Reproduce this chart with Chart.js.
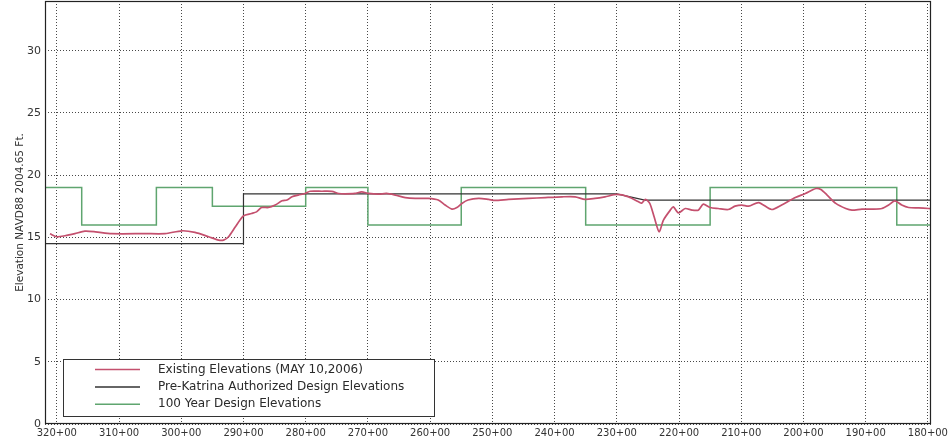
<!DOCTYPE html>
<html>
<head>
<meta charset="utf-8">
<script src="https://cdn.jsdelivr.net/npm/chart.js@4"></script>
<style>
html,body{margin:0;padding:0;background:#fff;}
#wrap{width:951px;height:441px;}
</style>
</head>
<body>
<div id="wrap"><canvas id="c" width="951" height="441"></canvas></div>
<script>
// ---- Data (stations in hundreds of feet, elevations in ft) ----
const seriesLabels = ['Existing Elevations (MAY 10,2006)', 'Pre-Katrina Authorized Design Elevations', '100 Year Design Elevations'];

const existingStations = [321.1,320.0,318.7,317.1,315.5,313.8,311.2,305.8,302.6,299.9,297.8,295.6,294.0,293.2,292.4,291.3,290.0,288.7,287.9,287.1,286.0,284.9,283.8,283.0,282.2,281.2,280.1,279.3,277.4,275.8,274.7,273.7,272.1,271.0,269.9,268.3,267.0,265.6,264.0,262.4,260.3,258.7,257.6,256.5,255.7,254.9,253.9,252.2,250.6,249.6,247.4,244.2,241.5,238.8,236.7,235.1,233.5,231.9,230.0,228.1,226.5,226.0,225.4,224.7,224.0,223.2,222.5,221.4,220.9,220.1,219.0,217.9,216.9,216.1,215.0,213.7,212.1,211.0,209.9,208.8,207.2,205.1,203.5,201.3,199.7,198.0,197.2,196.2,194.8,193.2,192.2,190.6,189.0,187.4,186.3,185.3,184.2,183.1,181.5,179.9,179.5];
const existingElev = [15.3,15.05,15.13,15.3,15.5,15.45,15.3,15.3,15.3,15.53,15.4,15.05,14.78,14.78,15.05,15.85,16.73,16.92,17.05,17.4,17.4,17.6,17.94,18.0,18.26,18.4,18.53,18.71,18.71,18.7,18.53,18.5,18.53,18.66,18.53,18.47,18.53,18.4,18.2,18.13,18.13,18.0,17.6,17.27,17.4,17.73,18.0,18.13,18.05,17.97,18.05,18.13,18.2,18.26,18.26,18.05,18.13,18.26,18.45,18.26,17.86,17.75,18.05,17.73,16.65,15.45,16.39,17.19,17.45,16.97,17.32,17.19,17.19,17.67,17.4,17.32,17.24,17.51,17.6,17.51,17.8,17.24,17.6,18.2,18.53,18.93,18.85,18.4,17.73,17.32,17.19,17.27,17.27,17.32,17.6,17.94,17.6,17.4,17.37,17.32,17.3];

const preKatrinaStations = [321.9,290.0,290.0,230.0,225.5,179.5];
const preKatrinaElev = [14.5,14.5,18.5,18.5,18.0,18.0];

const hundredYearStations = [321.9,316,304,295,280,270,255,235,215,185,179.5];
const hundredYearElev = [19,16,19,17.5,19,16,19,16,19,16,16];

const xTickStations = [320,310,300,290,280,270,260,250,240,230,220,210,200,190,180];
const yTickValues = [0,5,10,15,20,25,30];
const xMin = 179.5, xMax = 321.9, yMin = 0, yMax = 34;

const colors = ['#c4506e', '#333333', '#5fa56f'];

function pts(xs, ys){ return xs.map((x,i)=>({x:x, y:ys[i]})); }

const frameLegend = {
  id:'frameLegend',
  afterDatasetsDraw(chart){
    const {ctx, chartArea:a} = chart;
    ctx.save();
    // plot frame
    ctx.strokeStyle = '#222';
    ctx.lineWidth = 1.2;
    ctx.strokeRect(a.left+0.5, a.top+0.5, a.right-a.left-1, a.bottom-a.top-1);
    // legend
    const lx = a.left + 18, ly = a.bottom - 65, lw = 371, lh = 57;
    ctx.fillStyle = '#fff';
    ctx.fillRect(lx, ly, lw, lh);
    ctx.lineWidth = 1;
    ctx.strokeStyle = '#333';
    ctx.strokeRect(lx+0.5, ly+0.5, lw, lh);
    ctx.font = '12px "DejaVu Sans"';
    ctx.textBaseline = 'middle';
    ctx.textAlign = 'left';
    chart.data.datasets.forEach((ds, i) => {
      const yy = ly + 10.5 + i*17.4;
      ctx.strokeStyle = ds.borderColor;
      ctx.lineWidth = 1.5;
      ctx.beginPath();
      ctx.moveTo(lx + 32, yy);
      ctx.lineTo(lx + 77, yy);
      ctx.stroke();
      ctx.fillStyle = '#2a2a2a';
      ctx.fillText(ds.label, lx + 95, yy);
    });
    ctx.restore();
  }
};

new Chart(document.getElementById('c'), {
  type: 'line',
  data: {
    datasets: [
      { label: seriesLabels[0], data: pts(existingStations, existingElev), borderColor: colors[0], borderWidth: 1.7, pointRadius: 0, tension: 0.25, fill: false },
      { label: seriesLabels[1], data: pts(preKatrinaStations, preKatrinaElev), borderColor: colors[1], borderWidth: 1.2, pointRadius: 0, tension: 0, fill: false },
      { label: seriesLabels[2], data: pts(hundredYearStations, hundredYearElev), borderColor: colors[2], borderWidth: 1.5, pointRadius: 0, stepped: 'before', fill: false }
    ]
  },
  options: {
    responsive: false,
    animation: false,
    layout: { padding: { top: 1, right: 20, bottom: 0, left: 0 } },
    plugins: { legend: { display: false }, tooltip: { enabled: false } },
    scales: {
      x: {
        type: 'linear',
        reverse: true,
        min: xMin, max: xMax,
        afterBuildTicks(s){ s.ticks = xTickStations.map(v=>({value:v})); },
        afterFit(s){ s.height = 17; s.paddingLeft = 0; s.paddingRight = 0; },
        ticks: {
          autoSkip: false, maxRotation: 0, padding: 3,
          color: '#333',
          font: { family: 'DejaVu Sans', size: 10 },
          callback: v => v + '+00'
        },
        grid: { color: 'rgba(40,40,40,0.85)', lineWidth: 1, drawTicks: false },
        border: { display: false, dash: [1, 2] }
      },
      y: {
        type: 'linear',
        min: yMin, max: yMax,
        afterBuildTicks(s){ s.ticks = yTickValues.map(v=>({value:v})); },
        afterFit(s){ s.width = 45; s.paddingTop = 0; s.paddingBottom = 0; },
        ticks: {
          padding: 4, color: '#333',
          font: { family: 'DejaVu Sans', size: 11 }
        },
        grid: { color: 'rgba(40,40,40,0.85)', lineWidth: 1, drawTicks: false },
        border: { display: false, dash: [1, 2] },
        title: {
          display: true,
          text: 'Elevation NAVD88 2004.65 Ft.',
          color: '#333',
          font: { family: 'DejaVu Sans', size: 10.5 },
          padding: { top: 14, bottom: 0 }
        }
      }
    }
  },
  plugins: [frameLegend]
});
</script>
</body>
</html>
